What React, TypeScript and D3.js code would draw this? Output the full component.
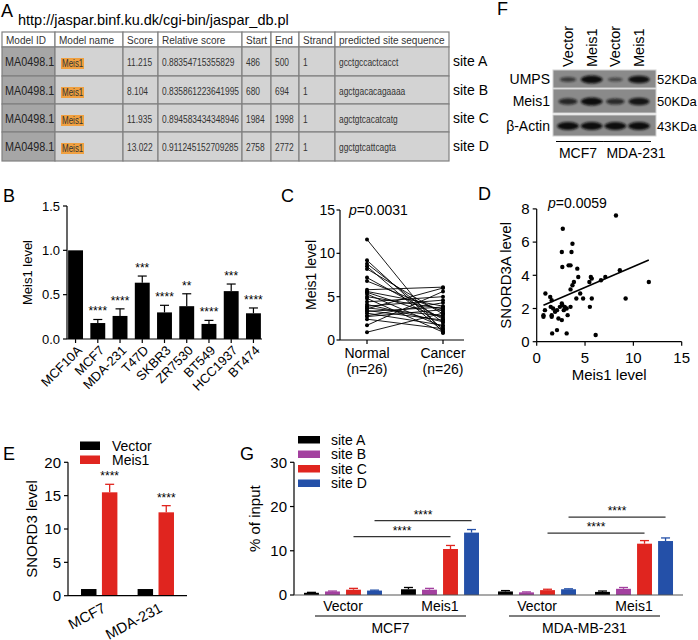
import React from 'react';
import * as d3 from 'd3';

const FONT = "'Liberation Sans', Arial, Helvetica, sans-serif";

// ---- panel A: JASPAR table
const tableHeaders = ['Model ID', 'Model name', 'Score', 'Relative score', 'Start', 'End', 'Strand', 'predicted site sequence'];
const modelIds = ['MA0498.1', 'MA0498.1', 'MA0498.1', 'MA0498.1'];
const modelNames = ['Meis1', 'Meis1', 'Meis1', 'Meis1'];
const scores = ['11.215', '8.104', '11.935', '13.022'];
const relScores = ['0.88354715355829', '0.835861223641995', '0.894583434348946', '0.911245152709285'];
const starts = ['486', '680', '1984', '2758'];
const ends = ['500', '694', '1998', '2772'];
const strands = ['1', '1', '1', '1'];
const sequences = ['gcctgccactcacct', 'agctgacacagaaaa', 'agctgtcacatcatg', 'ggctgtcattcagta'];
const siteLabels = ['site A', 'site B', 'site C', 'site D'];

// ---- panel F: western blot
const blotLanes = ['Vector', 'Meis1', 'Vector', 'Meis1'];
const blotProteins = ['UMPS', 'Meis1', 'β-Actin'];
const blotSizes = ['52KDa', '50KDa', '43KDa'];
const umpsBand = [0.45, 1.0, 0.3, 0.95];
const meis1Band = [0.7, 1.0, 0.65, 0.9];
const actinBand = [1.0, 1.0, 1.0, 1.0];
const blotCells = ['MCF7', 'MDA-231'];

// ---- panel B
const cellLines = ['MCF10A', 'MCF7', 'MDA-231', 'T47D', 'SKBR3', 'ZR7530', 'BT549', 'HCC1937', 'BT474'];
const meis1Levels = [1.0, 0.18, 0.26, 0.635, 0.30, 0.37, 0.17, 0.54, 0.29];
const meis1Errors = [0, 0.04, 0.08, 0.075, 0.08, 0.14, 0.04, 0.08, 0.06];
const meis1Sig = ['', '****', '****', '***', '****', '**', '****', '***', '****'];

// ---- panel C (paired, n=26)
const normalLevels = [11.6, 9.2, 8.8, 8.5, 8.2, 7.2, 6.8, 5.8, 5.6, 5.5, 5.3, 5.0, 4.8, 4.4, 4.1, 3.9, 3.7, 3.6, 3.4, 3.3, 3.1, 2.8, 2.7, 2.4, 1.7, 0.9];
const cancerLevels = [0.8, 1.2, 2.0, 1.0, 3.0, 2.4, 3.3, 6.1, 3.9, 2.6, 1.5, 3.6, 0.9, 5.0, 2.1, 4.6, 2.8, 6.0, 2.3, 3.8, 1.7, 4.3, 3.5, 1.3, 5.6, 3.1];

// ---- panel D
const scatterMeis1 = [8.2, 2.7, 3.7, 2.6, 3.6, 2.65, 3.3, 3.5, 4.2, 4.3, 5.6, 5.7, 6.65, 7.1, 8.6, 11.6, 9.2, 5.45, 3.85, 3.7, 3.5, 4.5, 4.1, 4.8, 5.7, 5.5, 0.9, 1.4, 1.55, 2.6, 2.65, 0.85, 1.45, 1.7, 1.9, 2.9, 3.1, 2.8, 3.5, 0.7, 0.7, 1.55, 1.55, 2.25, 2.6, 3.2, 1.6, 2.1, 3.1, 6.1, 2.4, 2.1];
const scatterSnord = [7.6, 6.8, 5.9, 5.4, 5.4, 4.5, 4.6, 4.6, 4.4, 3.9, 3.9, 3.8, 3.7, 3.9, 4.3, 3.6, 2.6, 3.6, 3.6, 3.4, 3.15, 2.9, 2.6, 2.6, 2.6, 2.1, 2.9, 2.7, 2.5, 2.3, 2.2, 1.9, 2.1, 2.0, 1.8, 2.1, 2.0, 1.9, 2.1, 1.6, 1.5, 1.6, 1.5, 1.4, 1.3, 1.6, 0.5, 0.7, 0.5, 0.4, 2.1, 1.9];
const fitSlope = 0.25;
const fitIntercept = 2.02;
const fitRange = [0.7, 11.6];

// ---- panel E
const eGroups = ['MCF7', 'MDA-231'];
const eSeries = ['Vector', 'Meis1'];
const eVector = [1, 1];
const eMeis1 = [15.5, 12.5];
const eMeis1Err = [1.2, 1.0];
const eColors = ['#000000', '#e0251f'];

// ---- panel G (groups: MCF7 Vector, MCF7 Meis1, MDA Vector, MDA Meis1)
const gGroups = ['MCF7 Vector', 'MCF7 Meis1', 'MDA Vector', 'MDA Meis1'];
const gConditions = ['Vector', 'Meis1', 'Vector', 'Meis1'];
const gCells = ['MCF7', 'MDA-MB-231'];
const gSites = ['site A', 'site B', 'site C', 'site D'];
const gColors = ['#000000', '#a3409f', '#e0251f', '#2450a8'];
const gSiteA = [0.5, 1.3, 0.8, 0.7];
const gSiteB = [0.8, 1.2, 0.6, 1.4];
const gSiteC = [1.2, 10.4, 1.1, 11.6];
const gSiteD = [1.0, 14.1, 1.3, 12.2];
const gErrA = [0.1, 0.4, 0.2, 0.2];
const gErrB = [0.1, 0.3, 0.1, 0.3];
const gErrC = [0.3, 0.8, 0.2, 0.7];
const gErrD = [0.1, 0.7, 0.1, 0.7];

const stroke = '#000';

function Letter({ x, y, t }: { x: number; y: number; t: string }) {
  return <text x={x} y={y} fontSize={18}>{t}</text>;
}

// condensed table text (no narrow font installed, so squeeze horizontally)
function Narrow({ x, y, size, fill, children }: { x: number; y: number; size: number; fill: string; children: React.ReactNode }) {
  return <text transform={`translate(${x},${y}) scale(0.8,1)`} fontSize={size} fill={fill}>{children}</text>;
}

function PanelA() {
  const colX = [2, 55, 123, 158, 242, 271, 299, 335, 449];
  const rowY = [32, 47, 76, 104, 132, 161];
  const rows = modelIds.map((id, i) => [id, modelNames[i], scores[i], relScores[i], starts[i], ends[i], strands[i], sequences[i]]);
  return (
    <g>
      <Letter x={1} y={17} t="A" />
      <text x={18} y={25} fontSize={14.5}>http://jaspar.binf.ku.dk/cgi-bin/jaspar_db.pl</text>
      {tableHeaders.map((h, c) => (
        <g key={h}>
          <rect x={colX[c]} y={rowY[0]} width={colX[c + 1] - colX[c]} height={rowY[1] - rowY[0]} fill="#fff" stroke="#808080" strokeWidth={1.2} />
          <text x={colX[c] + 4} y={rowY[0] + 11.5} fontSize={10} fill="#333">{h}</text>
        </g>
      ))}
      {rows.map((r, ri) => (
        <g key={ri}>
          {r.map((v, c) => {
            const x0 = colX[c], y0 = rowY[ri + 1], w = colX[c + 1] - colX[c], h = rowY[ri + 2] - rowY[ri + 1];
            return (
              <g key={c}>
                <rect x={x0} y={y0} width={w} height={h} fill={c === 0 ? '#a6a6a6' : '#d3d3d3'} stroke="#808080" strokeWidth={1.2} />
                {c === 0 ? (
                  <Narrow x={x0 + 3} y={y0 + 19} size={13.5} fill="#222">{v}</Narrow>
                ) : c === 1 ? (
                  <g>
                    <rect x={x0 + 6} y={y0 + 11} width={23} height={11} fill="#f0a040" />
                    <Narrow x={x0 + 7} y={y0 + 20} size={10} fill="#333">{v}</Narrow>
                  </g>
                ) : (
                  <Narrow x={x0 + 4} y={y0 + 19} size={10.5} fill="#333">{v}</Narrow>
                )}
              </g>
            );
          })}
          <text x={453} y={rowY[ri + 1] + 19} fontSize={14}>{siteLabels[ri]}</text>
        </g>
      ))}
    </g>
  );
}

function PanelF() {
  const x = d3.scalePoint().domain(d3.range(4).map(String)).range([568, 639]);
  const rowsY = [[70, 88], [89, 113], [115, 136]];
  const bands = [umpsBand, meis1Band, actinBand];
  const labelX = [578, 636];
  return (
    <g>
      <defs>
        <filter id="blur" x="-50%" y="-100%" width="200%" height="300%">
          <feGaussianBlur stdDeviation="1.1" />
        </filter>
      </defs>
      <Letter x={497} y={15} t="F" />
      {blotLanes.map((l, i) => (
        <text key={i} transform={`translate(${x(String(i))! + 5},67) rotate(-90)`} fontSize={14.5}>{l}</text>
      ))}
      {blotProteins.map((p, r) => {
        const [y0, y1] = rowsY[r];
        const cy = (y0 + y1) / 2;
        return (
          <g key={p}>
            <rect x={553} y={y0} width={103} height={y1 - y0} fill="#8a8a8a" stroke="#d0d0d0" strokeWidth={1} />
            {bands[r].map((v, i) => (
              <ellipse key={i} cx={x(String(i))!} cy={cy + 0.5} rx={6 + 5 * v} ry={1.2 + 2.8 * v} fill="#101010" opacity={0.35 + 0.65 * v} filter="url(#blur)" />
            ))}
            <text x={550} y={cy + 5} fontSize={14} textAnchor="end">{p}</text>
            <text x={657} y={cy + 5} fontSize={13}>{blotSizes[r]}</text>
          </g>
        );
      })}
      {blotCells.map((c, i) => {
        const xa = x(String(i * 2))!, xb = x(String(i * 2 + 1))!;
        return (
          <g key={c}>
            <line x1={xa - 12} x2={xb + 12} y1={141.5} y2={141.5} stroke={stroke} strokeWidth={1.2} />
            <text x={labelX[i]} y={158} fontSize={14} textAnchor="middle">{c}</text>
          </g>
        );
      })}
    </g>
  );
}

function PanelB() {
  const x = d3.scaleBand().domain(cellLines).range([67, 262]).paddingInner(0.33).paddingOuter(0.05);
  const y = d3.scaleLinear().domain([0, 1.5]).range([339, 206]);
  const bw = x.bandwidth();
  return (
    <g>
      <Letter x={3} y={202} t="B" />
      {cellLines.map((c, i) => {
        const bx = x(c)!, v = meis1Levels[i], e = meis1Errors[i], mx = bx + bw / 2;
        return (
          <g key={c}>
            <rect x={bx} y={y(v)} width={bw} height={y(0) - y(v)} fill="#000" />
            {e > 0 && (
              <g stroke={stroke} strokeWidth={1.2}>
                <line x1={mx} x2={mx} y1={y(v)} y2={y(v + e)} />
                <line x1={mx - 4.5} x2={mx + 4.5} y1={y(v + e)} y2={y(v + e)} />
              </g>
            )}
            <text x={mx} y={y(v + e) - 4} fontSize={12} textAnchor="middle">{meis1Sig[i]}</text>
            <line x1={mx} x2={mx} y1={y(0)} y2={y(0) + 4} stroke={stroke} strokeWidth={1.2} />
            <text transform={`translate(${mx + 4},${y(0) + 9}) rotate(-45)`} fontSize={13} textAnchor="end" dy="0.35em">{c}</text>
          </g>
        );
      })}
      <line x1={67} x2={67} y1={y(0)} y2={y(1.5)} stroke={stroke} strokeWidth={1.2} />
      <line x1={67} x2={262} y1={y(0)} y2={y(0)} stroke={stroke} strokeWidth={1.2} />
      {[0, 0.5, 1, 1.5].map(t => (
        <g key={t}>
          <line x1={63} x2={67} y1={y(t)} y2={y(t)} stroke={stroke} strokeWidth={1.2} />
          <text x={60} y={y(t)} dy="0.35em" fontSize={13} textAnchor="end">{d3.format('.1f')(t)}</text>
        </g>
      ))}
      <text transform={`translate(32,${(y(0) + y(1.5)) / 2}) rotate(-90)`} fontSize={13} textAnchor="middle">Meis1 level</text>
    </g>
  );
}

function PanelC() {
  const x = d3.scalePoint().domain(['Normal', 'Cancer']).range([367, 443]);
  const y = d3.scaleLinear().domain([0, 15]).range([340, 210]);
  const xn = x('Normal')!, xc = x('Cancer')!;
  const ax = 340;
  return (
    <g>
      <Letter x={281} y={202} t="C" />
      {normalLevels.map((n, i) => (
        <line key={i} x1={xn} x2={xc} y1={y(n)} y2={y(cancerLevels[i])} stroke={stroke} strokeWidth={0.9} />
      ))}
      {normalLevels.map((n, i) => <circle key={'n' + i} cx={xn} cy={y(n)} r={2} fill="#000" />)}
      {cancerLevels.map((n, i) => <circle key={'c' + i} cx={xc} cy={y(n)} r={2} fill="#000" />)}
      <line x1={ax} x2={ax} y1={y(0)} y2={y(15)} stroke={stroke} strokeWidth={1.2} />
      <line x1={ax} x2={464} y1={y(0)} y2={y(0)} stroke={stroke} strokeWidth={1.2} />
      {[0, 5, 10, 15].map(t => (
        <g key={t}>
          <line x1={ax - 3.5} x2={ax} y1={y(t)} y2={y(t)} stroke={stroke} strokeWidth={1.2} />
          <text x={ax - 5} y={y(t)} dy="0.35em" fontSize={14} textAnchor="end">{t}</text>
        </g>
      ))}
      {[['Normal', xn], ['Cancer', xc]].map(([l, px]) => (
        <g key={l as string}>
          <line x1={px as number} x2={px as number} y1={y(0)} y2={y(0) + 4} stroke={stroke} strokeWidth={1.2} />
          <text x={px as number} y={358} fontSize={14} textAnchor="middle">{l}</text>
          <text x={px as number} y={374} fontSize={14} textAnchor="middle">(n=26)</text>
        </g>
      ))}
      <text x={349} y={215} fontSize={14}><tspan fontStyle="italic">p</tspan>=0.0031</text>
      <text transform={`translate(316,${(y(0) + y(15)) / 2}) rotate(-90)`} fontSize={14} textAnchor="middle">Meis1 level</text>
    </g>
  );
}

function PanelD() {
  const x = d3.scaleLinear().domain([0, 15]).range([536.7, 681.7]);
  const y = d3.scaleLinear().domain([0, 8]).range([341.7, 208.9]);
  const fit = d3.line<number>().x(d => x(d)).y(d => y(fitIntercept + fitSlope * d));
  return (
    <g>
      <Letter x={478} y={200} t="D" />
      {scatterMeis1.map((m, i) => <circle key={i} cx={x(m)} cy={y(scatterSnord[i])} r={2.2} fill="#000" />)}
      <path d={fit(fitRange)!} stroke={stroke} strokeWidth={1.6} fill="none" />
      <line x1={x(0)} x2={x(0)} y1={y(0)} y2={y(8)} stroke={stroke} strokeWidth={1.2} />
      <line x1={x(0)} x2={x(15)} y1={y(0)} y2={y(0)} stroke={stroke} strokeWidth={1.2} />
      {[0, 2, 4, 6, 8].map(t => (
        <g key={t}>
          <line x1={x(0) - 4} x2={x(0)} y1={y(t)} y2={y(t)} stroke={stroke} strokeWidth={1.2} />
          <text x={x(0) - 7} y={y(t)} dy="0.35em" fontSize={15} textAnchor="end">{t}</text>
        </g>
      ))}
      {[0, 5, 10, 15].map(t => (
        <g key={t}>
          <line x1={x(t)} x2={x(t)} y1={y(0)} y2={y(0) + 4} stroke={stroke} strokeWidth={1.2} />
          <text x={x(t)} y={363} fontSize={15} textAnchor="middle">{t}</text>
        </g>
      ))}
      <text x={548} y={208} fontSize={14}><tspan fontStyle="italic">p</tspan>=0.0059</text>
      <text x={(x(0) + x(15)) / 2} y={380} fontSize={15} textAnchor="middle">Meis1 level</text>
      <text transform={`translate(511,${(y(0) + y(8)) / 2}) rotate(-90)`} fontSize={15} textAnchor="middle">SNORD3A level</text>
    </g>
  );
}

function PanelE() {
  const x0 = d3.scaleBand().domain(eGroups).range([68, 187]).paddingInner(0.357).paddingOuter(0.23);
  const x1 = d3.scaleBand().domain(eSeries).range([0, x0.bandwidth()]).paddingInner(0.26);
  const y = d3.scaleLinear().domain([0, 20]).range([595.7, 462.3]);
  const vals = [eVector, eMeis1];
  const errs = [[0, 0], eMeis1Err];
  return (
    <g>
      <Letter x={3} y={460} t="E" />
      {eGroups.map((g, gi) => (
        <g key={g}>
          {eSeries.map((s, si) => {
            const bx = x0(g)! + x1(s)!, v = vals[si][gi], e = errs[si][gi], mx = bx + x1.bandwidth() / 2;
            return (
              <g key={s}>
                <rect x={bx} y={y(v)} width={x1.bandwidth()} height={y(0) - y(v)} fill={eColors[si]} />
                {e > 0 && (
                  <g stroke={eColors[si]} strokeWidth={1.3}>
                    <line x1={mx} x2={mx} y1={y(v)} y2={y(v + e)} />
                    <line x1={mx - 4.5} x2={mx + 4.5} y1={y(v + e)} y2={y(v + e)} />
                  </g>
                )}
                {si === 1 && <text x={mx} y={y(v + e) - 4} fontSize={12} textAnchor="middle">****</text>}
              </g>
            );
          })}
          <text transform={`translate(${x0(g)! + x0.bandwidth() / 2 + 5},${y(0) + 11}) rotate(-28)`} fontSize={14.5} textAnchor="end" dy="0.35em">{g}</text>
        </g>
      ))}
      <line x1={68} x2={68} y1={y(0)} y2={y(20)} stroke={stroke} strokeWidth={1.2} />
      <line x1={68} x2={187} y1={y(0)} y2={y(0)} stroke={stroke} strokeWidth={1.2} />
      {[0, 5, 10, 15, 20].map(t => (
        <g key={t}>
          <line x1={64} x2={68} y1={y(t)} y2={y(t)} stroke={stroke} strokeWidth={1.2} />
          <text x={61} y={y(t)} dy="0.35em" fontSize={15} textAnchor="end">{t}</text>
        </g>
      ))}
      <text transform={`translate(37,${(y(0) + y(20)) / 2}) rotate(-90)`} fontSize={15} textAnchor="middle">SNORD3 level</text>
      {eSeries.map((s, i) => (
        <g key={s}>
          <rect x={80} y={441.5 + i * 14} width={20} height={8.5} fill={eColors[i]} />
          <text x={112} y={450.5 + i * 14} fontSize={14}>{s}</text>
        </g>
      ))}
    </g>
  );
}

function PanelG() {
  const x0 = d3.scaleBand().domain(gGroups).range([294, 683]).paddingInner(0.196).paddingOuter(0.103);
  const x1 = d3.scaleBand().domain(gSites).range([0, x0.bandwidth()]).paddingInner(0.29);
  const y = d3.scaleLinear().domain([0, 30]).range([595, 462.3]);
  const vals = [gSiteA, gSiteB, gSiteC, gSiteD];
  const errs = [gErrA, gErrB, gErrC, gErrD];
  const center = (gi: number, si: number) => x0(gGroups[gi])! + x1(gSites[si])! + x1.bandwidth() / 2;
  const brackets = [
    { from: 0, to: 1, site: 2, yv: 13.2 },
    { from: 0, to: 1, site: 3, yv: 16.8 },
    { from: 2, to: 3, site: 2, yv: 14.0 },
    { from: 2, to: 3, site: 3, yv: 17.6 },
  ];
  return (
    <g>
      <Letter x={240} y={460} t="G" />
      {gGroups.map((g, gi) => (
        <g key={g}>
          {gSites.map((s, si) => {
            const bx = x0(g)! + x1(s)!, v = vals[si][gi], e = errs[si][gi], mx = bx + x1.bandwidth() / 2;
            return (
              <g key={s}>
                <rect x={bx} y={y(v)} width={x1.bandwidth()} height={y(0) - y(v)} fill={gColors[si]} />
                <g stroke={gColors[si]} strokeWidth={1.3}>
                  <line x1={mx} x2={mx} y1={y(v)} y2={y(v + e)} />
                  <line x1={mx - 4.5} x2={mx + 4.5} y1={y(v + e)} y2={y(v + e)} />
                </g>
              </g>
            );
          })}
          <text x={x0(g)! + x0.bandwidth() / 2} y={611} fontSize={14} textAnchor="middle">{gConditions[gi]}</text>
        </g>
      ))}
      {brackets.map((b, i) => {
        const xa = center(b.from, b.site), xb = center(b.to, b.site);
        return (
          <g key={i}>
            <line x1={xa} x2={xb} y1={y(b.yv)} y2={y(b.yv)} stroke="#333" strokeWidth={1.3} />
            <text x={(xa + xb) / 2} y={y(b.yv) - 2} fontSize={12} textAnchor="middle">****</text>
          </g>
        );
      })}
      {gCells.map((c, ci) => {
        const a = x0(gGroups[ci * 2])! + 11, b = x0(gGroups[ci * 2 + 1])! + x0.bandwidth() - 13;
        return (
          <g key={c}>
            <line x1={a} x2={b} y1={616} y2={616} stroke={stroke} strokeWidth={1.2} />
            <text x={(a + b) / 2} y={633} fontSize={14} textAnchor="middle">{c}</text>
          </g>
        );
      })}
      <line x1={294} x2={294} y1={y(0)} y2={y(30)} stroke={stroke} strokeWidth={1.2} />
      <line x1={294} x2={683} y1={y(0)} y2={y(0)} stroke="#555" strokeWidth={1.2} />
      {[0, 10, 20, 30].map(t => (
        <g key={t}>
          <line x1={290} x2={294} y1={y(t)} y2={y(t)} stroke={stroke} strokeWidth={1.2} />
          <text x={287} y={y(t)} dy="0.35em" fontSize={15} textAnchor="end">{t}</text>
        </g>
      ))}
      <text transform={`translate(260,${(y(0) + y(30)) / 2 - 10}) rotate(-90)`} fontSize={15} textAnchor="middle">% of input</text>
      {gSites.map((s, i) => (
        <g key={s}>
          <rect x={298} y={436 + i * 14.5} width={22} height={7.5} fill={gColors[i]} />
          <text x={331} y={444.5 + i * 14.5} fontSize={14}>{s}</text>
        </g>
      ))}
    </g>
  );
}

export default function App() {
  return (
    <svg width={698} height={640} style={{ position: 'absolute', left: 0, top: 0, background: '#fff' }} fontFamily={FONT}>
      <rect width={698} height={640} fill="#fff" />
      <PanelA />
      <PanelF />
      <PanelB />
      <PanelC />
      <PanelD />
      <PanelE />
      <PanelG />
    </svg>
  );
}
